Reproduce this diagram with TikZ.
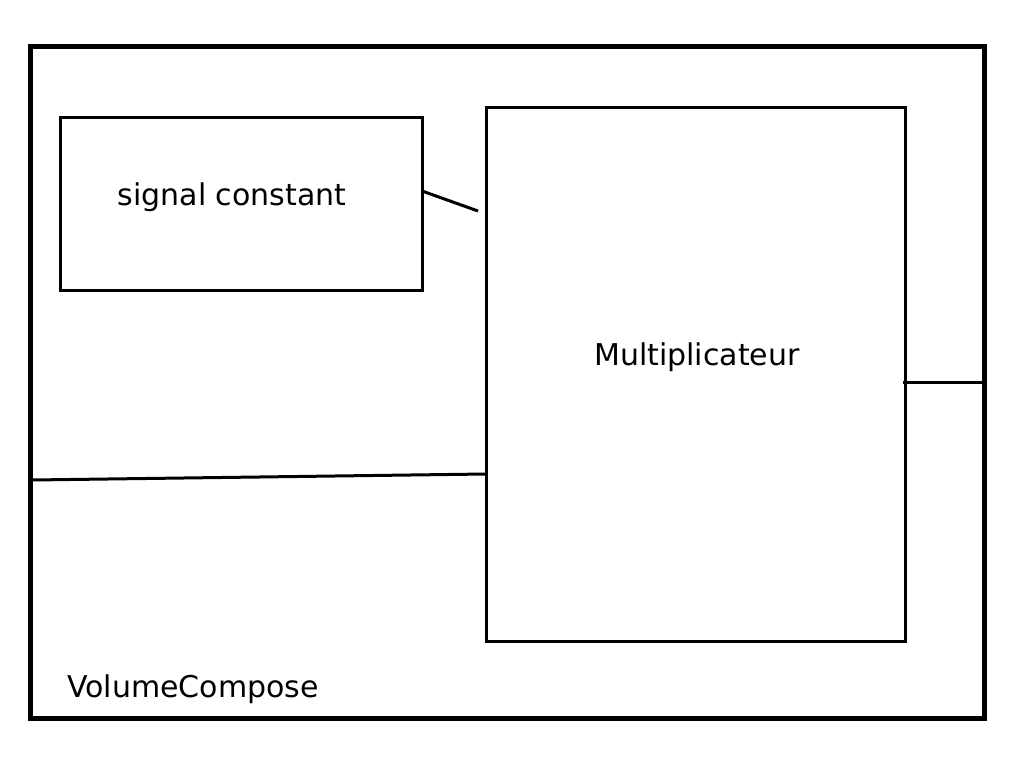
\documentclass[tikz,border=0pt]{standalone}
\usepackage{fontspec}
\setmainfont{DejaVu Sans}
\begin{document}
\begin{tikzpicture}[x=1pt,y=-1pt]
    \useasboundingbox (0,0) rectangle (1024,768);
    \tikzset{bloc/.style={draw=black, line width=3pt, outer sep=0pt}, lien/.style={draw=black, line width=3pt}, lbl/.style={font=\fontsize{30}{35}\selectfont, inner sep=0pt}}

    \draw[line width=5pt] (30,47) rectangle (984,718); % VolumeCompose
    \node[bloc, minimum width=362pt, minimum height=173pt, anchor=north west] (sig) at (60,117) {};
    \node[bloc, minimum width=419pt, minimum height=534pt, anchor=north west] (mult) at (486,107) {};

    \node[lbl, anchor=base] (sigtxt) at (232,205) {signal constant};
    \node[lbl, anchor=base west] (multtxt) at (594,365) {Multiplicateur};
    \node[lbl, anchor=base west] (voltxt) at (67,697) {VolumeCompose};

    \coordinate (a1) at (422,191);
    \coordinate (a2) at (478,211);
    \coordinate (b1) at (32,480);
    \coordinate (b2) at (486,474);
    \coordinate (c1) at (903,382);
    \coordinate (c2) at (982,382);

    \draw[lien] (a1) -- (a2);
    \draw[lien] (b1) -- (b2);
    \draw[lien] (c1) -- (c2);
\end{tikzpicture}
\end{document}
